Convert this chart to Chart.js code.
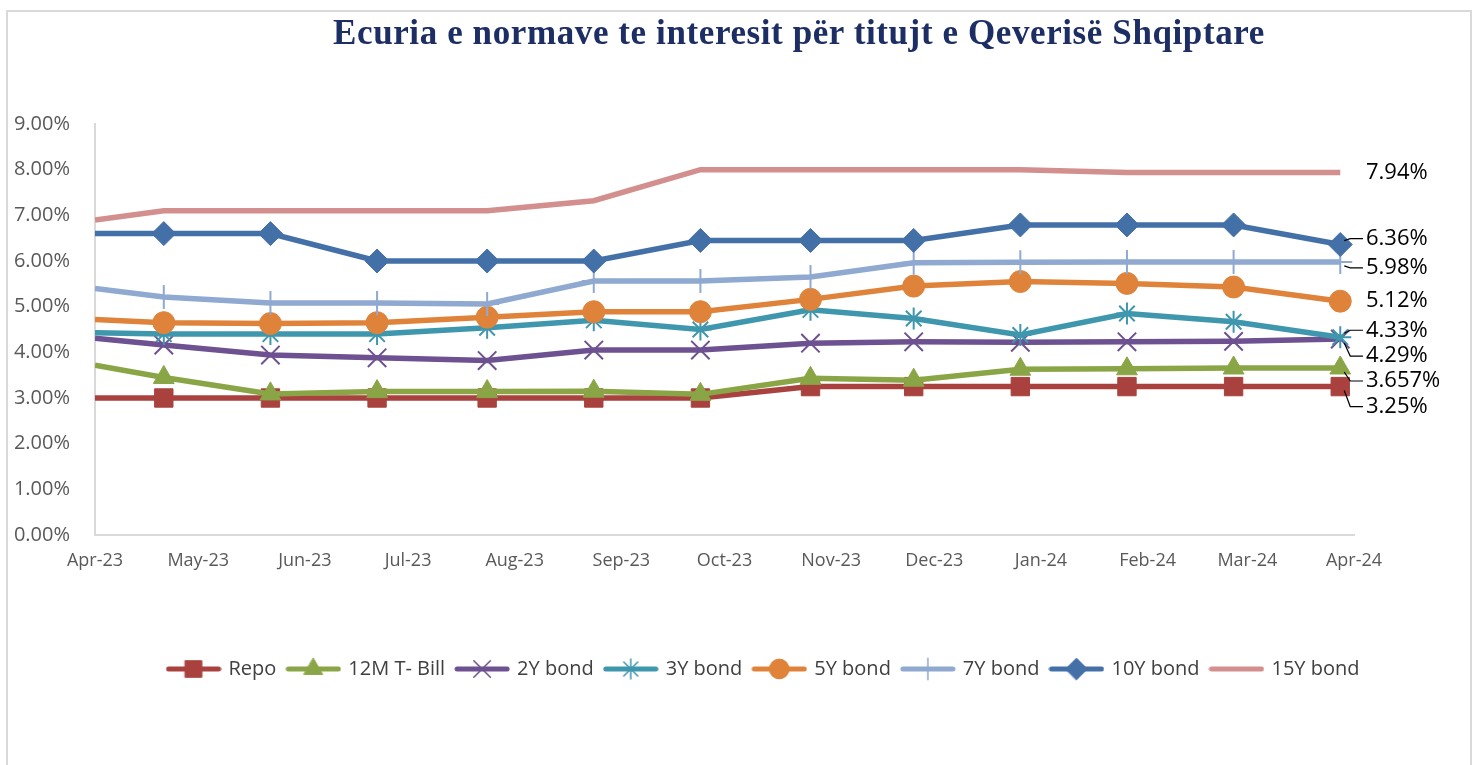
<!DOCTYPE html>
<html>
<head>
<meta charset="utf-8">
<script src="https://cdn.jsdelivr.net/npm/chart.js@4/dist/chart.umd.min.js"></script>
<style>
  html, body { margin: 0; padding: 0; background: #fff; }
  #wrap { position: relative; width: 1476px; height: 765px; overflow: hidden; }
  #marco { position: absolute; left: 6px; top: 10px; width: 1466px; height: 770px; border: 2px solid #d9d9d9; box-sizing: border-box; }
  #titulo { position: absolute; left: 799px; top: 13px; transform: translateX(-50%); white-space: nowrap;
            font: bold 35px "Liberation Serif", "DejaVu Serif", serif; letter-spacing: 0.6px; color: #1c2e63; }
  canvas { position: absolute; left: 0; top: 0; }
</style>
</head>
<body>
<div id="wrap">
  <div id="marco"></div>
  <canvas id="grafico" width="1476" height="765"></canvas>
  <div id="titulo">Ecuria e normave te interesit për titujt e Qeverisë Shqiptare</div>
</div>
<script>
// dates of observations
const fechas = ['2023-04-01', '2023-04-21', '2023-05-22', '2023-06-22', '2023-07-24', '2023-08-24',
  '2023-09-24', '2023-10-26', '2023-11-25', '2023-12-26', '2024-01-26', '2024-02-26', '2024-03-28'];

// axis ticks (month starts) and their labels
const tickFechas = ['2023-04-01', '2023-05-01', '2023-06-01', '2023-07-01', '2023-08-01', '2023-09-01',
  '2023-10-01', '2023-11-01', '2023-12-01', '2024-01-01', '2024-02-01', '2024-03-01', '2024-04-01'];
const tickLabels = ['Apr-23', 'May-23', 'Jun-23', 'Jul-23', 'Aug-23', 'Sep-23', 'Oct-23',
  'Nov-23', 'Dec-23', 'Jan-24', 'Feb-24', 'Mar-24', 'Apr-24'];

const series = ['Repo', '12M T- Bill', '2Y bond', '3Y bond', '5Y bond', '7Y bond', '10Y bond', '15Y bond'];

const repo   = [3.00, 3.00, 3.00, 3.00, 3.00, 3.00, 3.00, 3.25, 3.25, 3.25, 3.25, 3.25, 3.25];
const tbill  = [3.72, 3.45, 3.09, 3.14, 3.14, 3.15, 3.08, 3.43, 3.39, 3.63, 3.64, 3.657, 3.657];
const bond2  = [4.31, 4.16, 3.94, 3.88, 3.82, 4.05, 4.05, 4.20, 4.23, 4.22, 4.23, 4.24, 4.29];
const bond3  = [4.43, 4.40, 4.40, 4.40, 4.54, 4.70, 4.50, 4.93, 4.74, 4.38, 4.85, 4.67, 4.33];
const bond5  = [4.72, 4.65, 4.63, 4.65, 4.77, 4.89, 4.89, 5.16, 5.45, 5.55, 5.51, 5.43, 5.12];
const bond7  = [5.40, 5.21, 5.08, 5.08, 5.06, 5.56, 5.56, 5.65, 5.96, 5.97, 5.98, 5.98, 5.98];
const bond10 = [6.60, 6.60, 6.60, 6.00, 6.00, 6.00, 6.45, 6.45, 6.45, 6.79, 6.79, 6.79, 6.36];
const bond15 = [6.90, 7.10, 7.10, 7.10, 7.10, 7.32, 8.00, 8.00, 8.00, 8.00, 7.94, 7.94, 7.94];

const valores = [repo, tbill, bond2, bond3, bond5, bond7, bond10, bond15];

const colores = ['#a9423e', '#8aa546', '#6d5190', '#3f97ae', '#df833a', '#8fa9d1', '#4470a8', '#d38f8e'];
const marcadores = ['rect', 'triangle', 'crossRot', 'star', 'circle', 'cross', 'rectRot', false];
const radios = [13, 12, 13, 11, 11, 12, 12, 0];
const finos = ['crossRot', 'star', 'cross'];

const base = Date.parse(tickFechas[0]);
const dia = (d) => (Date.parse(d) - base) / 86400000;

const fuente = '"Open Sans", "Noto Sans", sans-serif';

// label nudges for last values (pixels), leader line yes/no
const etiquetas = [
  { dy: 20, guia: true },   // Repo
  { dy: 13, guia: true },   // 12M
  { dy: 17, guia: true },   // 2Y
  { dy: -7, guia: true },   // 3Y
  { dy: 0, guia: false },   // 5Y
  { dy: 6, guia: true },    // 7Y
  { dy: -6, guia: true },   // 10Y
  { dy: 0, guia: false }    // 15Y
];

// small canvas with line + marker for the legend
function iconoLeyenda(i) {
  const c = document.createElement('canvas');
  c.width = 56; c.height = 24;
  const g = c.getContext('2d');
  g.strokeStyle = colores[i];
  g.fillStyle = colores[i];
  g.lineWidth = 5;
  g.lineCap = 'round';
  g.beginPath(); g.moveTo(3, 12); g.lineTo(53, 12); g.stroke();
  if (marcadores[i]) {
    g.lineWidth = finos.includes(marcadores[i]) ? 1.5 : 1;
    Chart.helpers.drawPoint(g, {
      pointStyle: marcadores[i],
      radius: radios[i] * 0.9,
      borderWidth: g.lineWidth
    }, 28, 12);
  }
  return c;
}

const datasets = series.map((nombre, i) => ({
  label: nombre,
  data: fechas.map((f, j) => ({ x: dia(f), y: valores[i][j] })),
  borderColor: colores[i],
  backgroundColor: colores[i],
  borderWidth: 5.5,
  pointStyle: marcadores[i],
  pointRadius: (ctx) => ctx.dataIndex === 0 ? 0 : radios[i],
  pointHoverRadius: radios[i],
  pointBackgroundColor: colores[i],
  pointBorderColor: colores[i],
  pointBorderWidth: finos.includes(marcadores[i]) ? 2 : 1,
  tension: 0,
  order: series.length - i
}));

const pluginEtiquetas = {
  id: 'etiquetas',
  afterLayout(chart) {
    // legend sits a bit right of the canvas centre
    chart.legend.left += 26;
    chart.legend.right += 26;
  },
  afterDatasetsDraw(chart) {
    const ctx = chart.ctx;
    ctx.save();
    ctx.font = '22px ' + fuente;
    ctx.fillStyle = '#000';
    ctx.textBaseline = 'middle';
    ctx.strokeStyle = '#000';
    ctx.lineWidth = 1.2;
    chart.data.datasets.forEach((ds, i) => {
      const meta = chart.getDatasetMeta(i);
      const p = meta.data[meta.data.length - 1];
      const v = ds.data[ds.data.length - 1].y;
      const e = etiquetas[i];
      const ly = p.y + e.dy;
      const lx = chart.chartArea.right + 12;
      if (e.guia) {
        const s = e.dy < 0 ? -1 : 1;
        ctx.beginPath();
        ctx.moveTo(p.x + 4, p.y + s * 4);
        ctx.lineTo(p.x + 10, ly);
        ctx.lineTo(lx - 3, ly);
        ctx.stroke();
      }
      ctx.fillText(v + '%', lx, ly);
    });
    ctx.restore();
  }
};

const ctx = document.getElementById('grafico').getContext('2d');
Chart.defaults.font.family = fuente;

new Chart(ctx, {
  type: 'line',
  data: { datasets: datasets },
  plugins: [pluginEtiquetas],
  options: {
    responsive: false,
    animation: false,
    layout: { padding: { left: 8, right: 8, top: 124, bottom: 76 } },
    scales: {
      x: {
        type: 'linear',
        min: dia(tickFechas[0]),
        max: dia(tickFechas[tickFechas.length - 1]),
        afterBuildTicks: (scale) => { scale.ticks = tickFechas.map((f) => ({ value: dia(f) })); },
        afterFit: (scale) => { scale.height = 112; },
        grid: { display: false, drawTicks: false },
        border: { color: '#d9d9d9', width: 2 },
        ticks: {
          autoSkip: false, maxRotation: 0, padding: 15,
          color: '#595959', font: { size: 18 },
          callback: (v) => tickLabels[tickFechas.findIndex((f) => dia(f) === v)]
        }
      },
      y: {
        min: 0, max: 9,
        afterFit: (scale) => { scale.width = 87; },
        grid: { display: false, drawTicks: false },
        border: { color: '#d9d9d9', width: 2 },
        ticks: {
          stepSize: 1, padding: 25,
          color: '#595959', font: { size: 20 },
          callback: (v) => v.toFixed(2) + '%'
        }
      },
      derecha: {
        position: 'right',
        min: 0, max: 9,
        afterFit: (scale) => { scale.width = 114; },
        grid: { display: false, drawTicks: false },
        border: { display: false },
        ticks: { display: false }
      }
    },
    plugins: {
      title: { display: false },
      tooltip: { enabled: false },
      legend: {
        position: 'bottom',
        labels: {
          usePointStyle: true,
          pointStyleWidth: 50,
          boxHeight: 20,
          padding: 12,
          color: '#404040',
          font: { size: 20 },
          sort: (a, b) => a.datasetIndex - b.datasetIndex,
          generateLabels: (chart) => {
            const items = Chart.defaults.plugins.legend.labels.generateLabels(chart);
            items.forEach((it) => { it.pointStyle = iconoLeyenda(it.datasetIndex); it.rotation = 0; });
            return items;
          }
        }
      }
    }
  }
});
</script>
</body>
</html>
